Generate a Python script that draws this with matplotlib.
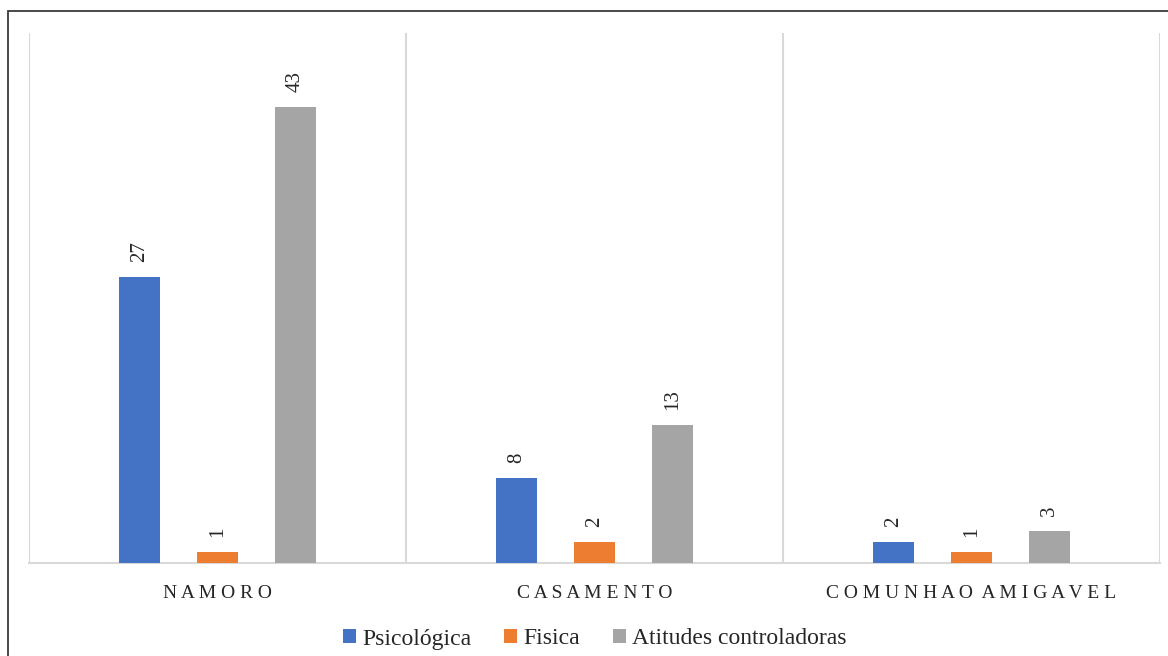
import matplotlib.pyplot as plt
import matplotlib.patches as mpatches
import numpy as np

categories = ['N A M O R O', 'C A S A M E N T O', 'C O M U N H A O  A M I G A V E L']
series_names = ['Psicológica', 'Fisica', 'Atitudes controladoras']
psicologica = [27, 8, 2]
fisica = [1, 2, 1]
atitudes = [43, 13, 3]

colors = ['#4472C4', '#ED7D31', '#A5A5A5']

plt.rcParams['font.family'] = ['Liberation Serif', 'DejaVu Serif']

fig = plt.figure(figsize=(11.68, 6.56), dpi=100)
fig.patch.set_facecolor('white')
ax = fig.add_axes([29 / 1168, 1 - 563 / 656, (1160 - 29) / 1168, (563 - 33) / 656])

# outer chart frame (cut off at right and bottom like the source)
frame = mpatches.Rectangle((8 / 1168, -0.2), 1.2, 1.2 - 11 / 656,
                           transform=fig.transFigure, fill=False,
                           edgecolor='#3a3a3a', linewidth=1.3, clip_on=False)
fig.patches.append(frame)

x = np.arange(len(categories))
width = 0.111
offsets = [-0.207, 0, 0.207]
data = [psicologica, fisica, atitudes]

for vals, off, col, name in zip(data, offsets, colors, series_names):
    bars = ax.bar(x + off, vals, width, color=col, label=name, zorder=3)
    for b, v in zip(bars, vals):
        ax.annotate(str(v), (b.get_x() + b.get_width() / 2, v),
                    xytext=(0, 11), textcoords='offset points',
                    rotation=90, ha='center', va='bottom',
                    fontsize=15, color='#262626')

ax.set_xlim(-0.5, len(categories) - 0.5)
ax.set_ylim(0, 50)
ax.set_yticks([])
ax.set_xticks(x)
ax.set_xticklabels(categories, fontsize=14, color='#262626')
ax.tick_params(axis='x', length=0, pad=16)

# vertical separators between categories
for sep in [-0.5, 0.5, 1.5, 2.5]:
    ax.axvline(sep, color='#D9D9D9', linewidth=1.5, zorder=1)

for side in ['top', 'right', 'left']:
    ax.spines[side].set_visible(False)
ax.spines['bottom'].set_color('#D9D9D9')
ax.spines['bottom'].set_linewidth(1.5)

fig.legend(loc='center', bbox_to_anchor=(0.509, 1 - 639 / 656), ncol=3,
           frameon=False, fontsize=17, handlelength=0.55, handleheight=0.55,
           handletextpad=0.25, columnspacing=1.4, labelcolor='#262626')

fig.savefig('out.png', dpi=100, facecolor='white')
